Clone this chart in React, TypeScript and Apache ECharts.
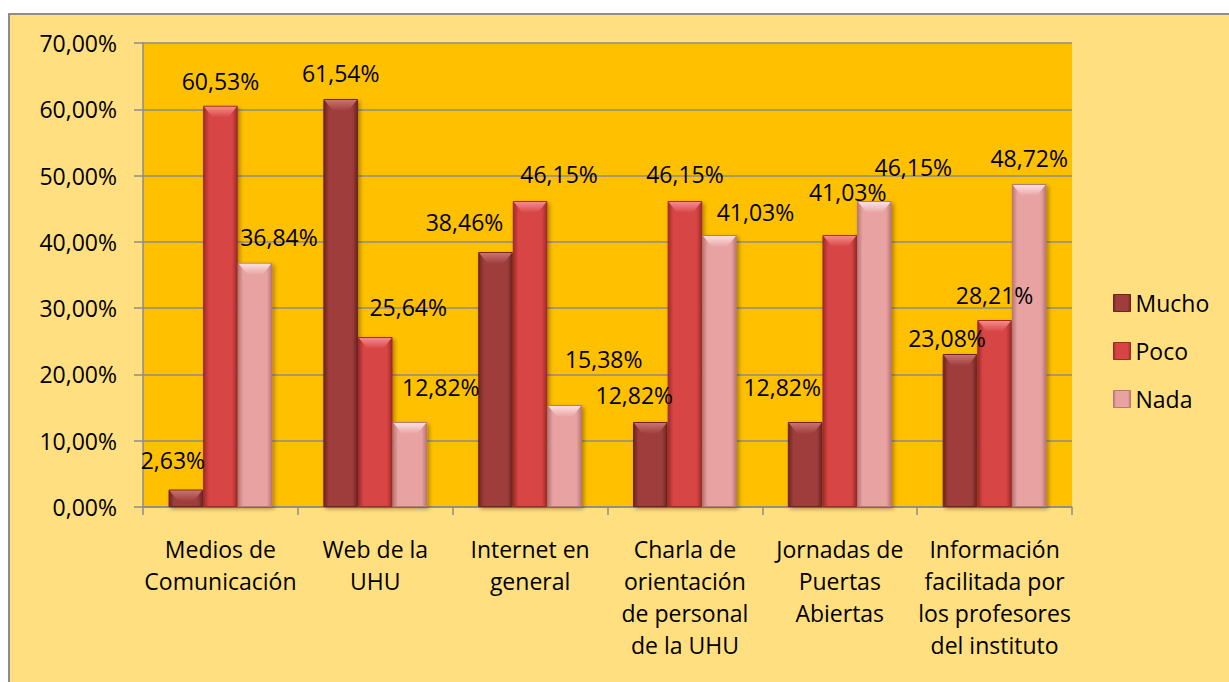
import React, { useEffect, useRef } from "react";
import * as echarts from "echarts";

const categories = [
  "Medios de\nComunicación",
  "Web de la\nUHU",
  "Internet en\ngeneral",
  "Charla de\norientación\nde personal\nde la UHU",
  "Jornadas de\nPuertas\nAbiertas",
  "Información\nfacilitada por\nlos profesores\ndel instituto",
];
const seriesNames = ["Mucho", "Poco", "Nada"];
const mucho = [2.63, 61.54, 38.46, 12.82, 12.82, 23.08];
const poco = [60.53, 25.64, 46.15, 46.15, 41.03, 28.21];
const nada = [36.84, 12.82, 15.38, 41.03, 46.15, 48.72];
const yTicks = [0, 10, 20, 30, 40, 50, 60, 70];

// label placement tweaks (dx, height above bar top) to mimic the original layout
const labelShift = [
  [[-13, 30], [0, 26], [-31, 30], [-16, 27], [-23, 35], [-13, 16]],
  [[0, 25], [33, 30], [29, 27], [0, 27], [8, 43], [0, 25]],
  [[24, 26], [31, 35], [39, 46], [36, 23], [39, 34], [0, 26]],
];

const palette = [
  { edge: "#6e2422", mid: "#9e3d3b", light: "#c97270" },
  { edge: "#9e2a2a", mid: "#d74444", light: "#f58a8a" },
  { edge: "#b97777", mid: "#e8a2a2", light: "#fde0e0" },
];

const CAT_GAP = 0.33;
const fmt = (v: number) => v.toFixed(2).replace(".", ",") + "%";
const FONT = "'Open Sans', 'Noto Sans', sans-serif";
const FS = 23;

export default function App() {
  const ref = useRef<HTMLDivElement>(null);
  useEffect(() => {
    if (!ref.current) return;
    const chart = echarts.init(ref.current, undefined, { renderer: "svg" });
    const values = [mucho, poco, nada];
    const grad = (i: number) =>
      new echarts.graphic.LinearGradient(0, 0, 1, 0, [
        { offset: 0, color: palette[i].edge },
        { offset: 0.15, color: palette[i].mid },
        { offset: 0.85, color: palette[i].mid },
        { offset: 1, color: palette[i].edge },
      ]);
    const series: any[] = values.map((vals, si) => ({
      name: seriesNames[si],
      type: "bar",
      barGap: "0%",
      barCategoryGap: CAT_GAP * 100 + "%",
      itemStyle: {
        color: grad(si),
        borderColor: palette[si].edge,
        borderWidth: 1,
        shadowColor: "rgba(0,0,0,0.35)",
        shadowBlur: 4,
        shadowOffsetX: 2,
        shadowOffsetY: 2,
      },
      data: vals.map((v, ci) => ({
        value: v,
        label: {
          show: true,
          position: "top",
          distance: 0,
          offset: [labelShift[si][ci][0], -(labelShift[si][ci][1] - 12)],
          formatter: (p: any) => fmt(p.value),
          fontSize: FS,
          lineHeight: 24,
          color: "#000",
          fontFamily: FONT,
        },
      })),
    }));
    // bevel highlights on bar tops
    const bevelData: number[][] = [];
    values.forEach((vals, si) => vals.forEach((v, ci) => bevelData.push([ci, v, si])));
    series.push({
      type: "custom",
      silent: true,
      z: 5,
      data: bevelData,
      renderItem: (params: any, api: any) => {
        const ci = api.value(0);
        const v = api.value(1);
        const si = api.value(2);
        const top = api.coord([ci, v]);
        const base = api.coord([ci, 0]);
        const catW = api.size([1, 0])[0];
        const bw = (catW * (1 - CAT_GAP)) / 3;
        const x0 = top[0] - 1.5 * bw + si * bw + 1;
        const x1 = x0 + bw - 2;
        const y = top[1] + 1;
        const h = Math.min(11, (base[1] - top[1]) * 0.7);
        const inset = Math.min(9, h * 0.8);
        return {
          type: "group",
          children: [
            {
              type: "polygon",
              shape: {
                points: [
                  [x0, y],
                  [x1, y],
                  [x1 - inset, y + h],
                  [x0 + inset, y + h],
                ],
              },
              style: {
                fill: new echarts.graphic.LinearGradient(0, 0, 0, 1, [
                  { offset: 0, color: palette[si].light },
                  { offset: 1, color: palette[si].mid },
                ]),
              },
            },
          ],
        };
      },
    });
    chart.setOption({
      animation: false,
      backgroundColor: "transparent",
      graphic: [
        {
          type: "rect",
          left: 8,
          top: 13,
          z: -10,
          shape: { x: 0, y: 0, width: 1240, height: 700 },
          style: { fill: "#FFDF80", stroke: "#8c8c8c", lineWidth: 2 },
          silent: true,
        },
      ],
      legend: {
        orient: "vertical",
        left: 1113,
        top: 291,
        padding: 0,
        itemWidth: 17,
        itemHeight: 17,
        itemGap: 24,
        icon: "rect",
        textStyle: { fontSize: FS, lineHeight: 24, color: "#000", fontFamily: FONT },
        data: seriesNames.map((n, i) => ({ name: n, itemStyle: { color: grad(i), borderColor: palette[i].edge, borderWidth: 1 } })),
      },
      grid: {
        left: 143,
        right: 157,
        top: 43,
        bottom: 175,
        show: true,
        backgroundColor: "#FFC000",
        borderWidth: 0,
      },
      xAxis: {
        type: "category",
        data: categories,
        axisLine: { show: true, lineStyle: { color: "#8c8c8c", width: 1.5 } },
        axisTick: { show: true, length: 8, lineStyle: { color: "#8c8c8c", width: 1.5 } },
        axisLabel: {
          interval: 0,
          margin: 26,
          fontSize: FS,
          lineHeight: 32,
          color: "#000",
          fontFamily: FONT,
          verticalAlign: "top",
        },
      },
      yAxis: {
        type: "value",
        min: yTicks[0],
        max: yTicks[yTicks.length - 1],
        interval: 10,
        axisLine: { show: true, lineStyle: { color: "#8c8c8c", width: 1.5 } },
        axisTick: { show: true, length: 9, lineStyle: { color: "#8c8c8c", width: 1.5 } },
        splitLine: { show: true, lineStyle: { color: "#8c8c8c", width: 1.5 } },
        axisLabel: {
          margin: 26,
          fontSize: FS,
          color: "#000",
          fontFamily: FONT,
          formatter: (v: number) => fmt(v),
        },
      },
      series,
    });
    return () => chart.dispose();
  }, []);
  return (
    <div
      ref={ref}
      style={{ position: "absolute", left: 0, top: 0, width: 1229, height: 682 }}
    />
  );
}
